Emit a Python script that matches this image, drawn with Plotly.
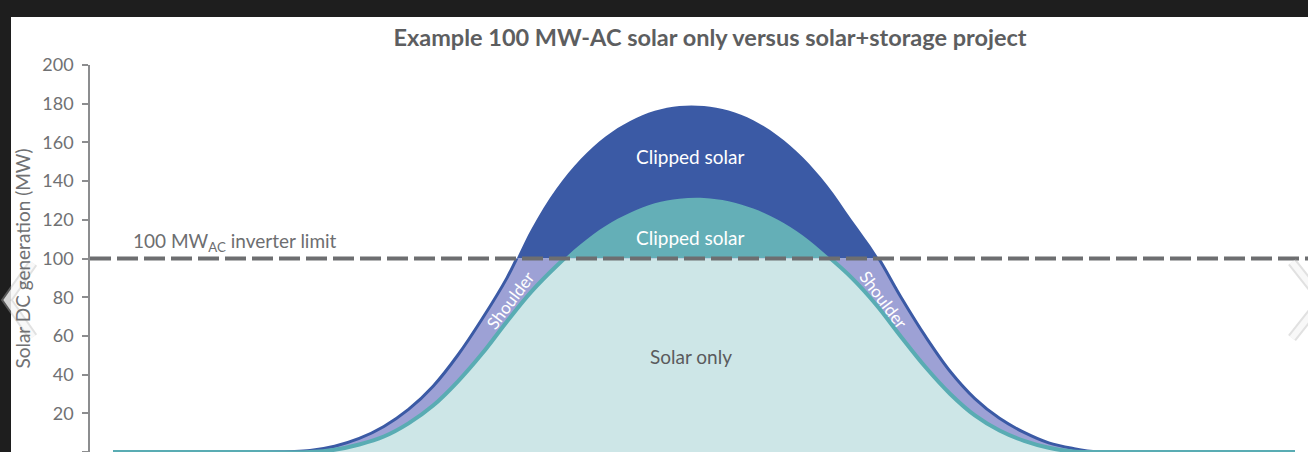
import plotly.graph_objects as go

# ---- data ----
hours = [0, 1, 2, 3, 4, 4.5, 5, 5.5, 6, 6.5, 7, 7.5, 8, 8.5, 9, 9.5, 10, 10.5, 11, 11.5,
         12, 12.5, 13, 13.5, 14, 14.5, 15, 15.5, 16, 16.5, 17, 17.5, 18, 18.5, 19, 19.5,
         20, 21, 22, 23, 24]
solar_storage_dc = [0, 0, 0, 0, 0.8, 3, 7, 13.2, 22, 34, 50, 69, 90, 115.5, 136, 151.5, 163, 171, 176.3, 178.8,
                    178.8, 176.5, 171.5, 163.5, 152.5, 138, 120, 102, 80, 59.6, 41.6, 27.6, 17.4, 10.1, 4.7, 1.8,
                    0, 0, 0, 0, 0]
solar_only_dc = [0, 0, 0, 0, 0, 1.2, 3.9, 8, 14.8, 24, 36.4, 51, 67.5, 83, 96, 107.5, 116.8, 123.6, 128.5, 130.9,
                 131.3, 129.6, 125.8, 120, 112, 101.5, 90, 76, 59.6, 43.8, 30, 18.9, 11.1, 5.8, 2.2, 0.2,
                 0, 0, 0, 0, 0]
inverter_limit = 100
y_ticks = [0, 20, 40, 60, 80, 100, 120, 140, 160, 180, 200]

DARK_BLUE = "#3b5aa5"
MID_TEAL = "#64afb7"
LIGHT_TEAL = "#cde6e7"
LAVENDER = "#9da1d5"
TEAL_LINE = "#59acb3"
GREY = "#6d6e70"
FONT = "Lato"

W, H = 1308, 452
L, T = 90, 65


def px(xp):
    return (xp - L) / (W - L)


def py(yp):
    return (H - yp) / (H - T)


fig = go.Figure()

line_kw = dict(shape="spline", smoothing=1.0)
# full-height layer (above the inverter limit)
fig.add_trace(go.Scatter(x=hours, y=solar_storage_dc, mode="lines", line=dict(width=0, **line_kw),
                         fill="tozeroy", fillcolor=DARK_BLUE, xaxis="x", yaxis="y", hoverinfo="skip"))
fig.add_trace(go.Scatter(x=hours, y=solar_only_dc, mode="lines", line=dict(width=0, **line_kw),
                         fill="tozeroy", fillcolor=MID_TEAL, xaxis="x", yaxis="y", hoverinfo="skip"))
# layer clipped at the inverter limit (y2 covers 0..100)
fig.add_trace(go.Scatter(x=hours, y=solar_storage_dc, mode="lines",
                         line=dict(width=3, color=DARK_BLUE, **line_kw),
                         fill="tozeroy", fillcolor=LAVENDER, xaxis="x", yaxis="y2", hoverinfo="skip"))
fig.add_trace(go.Scatter(x=hours, y=solar_only_dc, mode="lines",
                         line=dict(width=4, color=TEAL_LINE, **line_kw),
                         fill="tozeroy", fillcolor=LIGHT_TEAL, xaxis="x", yaxis="y2", hoverinfo="skip"))

annotations = [
    dict(x=0.36, y=inverter_limit, xref="x", yref="y", text="100 MW<sub>AC</sub> inverter limit",
         showarrow=False, xanchor="left", yanchor="bottom", yshift=2,
         font=dict(family=FONT, size=19, color=GREY)),
    dict(x=11.72, y=152.5, xref="x", yref="y", text="Clipped solar", showarrow=False,
         font=dict(family=FONT, size=19, color="white")),
    dict(x=11.72, y=110.6, xref="x", yref="y", text="Clipped solar", showarrow=False,
         font=dict(family=FONT, size=19, color="white")),
    dict(x=11.74, y=49.1, xref="x", yref="y", text="Solar only", showarrow=False,
         font=dict(family=FONT, size=19, color="#5a5b5d")),
    dict(x=8.08, y=78.6, xref="x", yref="y", text="Shoulder", showarrow=False, textangle=-53,
         font=dict(family=FONT, size=17, color="white")),
    dict(x=15.64, y=78.6, xref="x", yref="y", text="Shoulder", showarrow=False, textangle=53,
         font=dict(family=FONT, size=17, color="white")),
]

shapes = [
    dict(type="line", xref="paper", yref="y", x0=0, x1=1, y0=inverter_limit, y1=inverter_limit,
         line=dict(color=GREY, width=4, dash="21px,6px"), layer="above"),
    # dark frame of the screenshot
    dict(type="rect", xref="paper", yref="paper", x0=-0.2, x1=1.2, y0=py(17), y1=1.4,
         fillcolor="#1e1e1e", line=dict(width=0), layer="above"),
    dict(type="rect", xref="paper", yref="paper", x0=-0.2, x1=px(11), y0=-0.2, y1=1.4,
         fillcolor="#1e1e1e", line=dict(width=0), layer="above"),
]

# faint carousel arrows of the screenshot
left_arrow = f"M {px(33)},{py(263)} L {px(7)},{py(300)} L {px(33)},{py(337)}"
right_arrow = f"M {px(1292)},{py(262)} L {px(1322)},{py(300)} L {px(1292)},{py(338)}"
for path in (left_arrow, right_arrow):
    shapes.append(dict(type="path", xref="paper", yref="paper", path=path,
                       line=dict(color="rgba(180,180,180,0.4)", width=10), layer="above"))
    shapes.append(dict(type="path", xref="paper", yref="paper", path=path,
                       line=dict(color="rgba(255,255,255,0.75)", width=6), layer="above"))

fig.update_layout(
    width=W, height=H,
    margin=dict(l=L, r=0, t=T, b=0),
    paper_bgcolor="white", plot_bgcolor="white",
    showlegend=False,
    title=dict(text="Example 100 MW-AC solar only versus solar+storage project",
               x=710 / W, xref="container", xanchor="center",
               y=1 - 38 / H, yref="container", yanchor="middle",
               font=dict(family=FONT, size=23.5, color="#5d5e60", weight="bold")),
    xaxis=dict(range=[-0.467, 24.264], visible=False, showgrid=False, zeroline=False),
    yaxis=dict(range=[0, 200], domain=[0, 1], tickvals=y_ticks, showgrid=False, zeroline=False,
               showline=True, linecolor="#8c8d8f", linewidth=1.5,
               ticks="outside", ticklen=6, tickwidth=1.5, tickcolor="#8c8d8f",
               ticklabelstandoff=5,
               tickfont=dict(family=FONT, size=18, color="#707173"),
               title=dict(text="Solar DC generation (MW)", standoff=7,
                          font=dict(family=FONT, size=19, color="#707173"))),
    yaxis2=dict(range=[0, inverter_limit], domain=[0, 0.5], anchor="x", visible=False,
                showgrid=False, zeroline=False),
    annotations=annotations,
    shapes=shapes,
)

fig.write_html("out.html", config={"displayModeBar": False},
               post_script="document.body.style.margin='0';")
